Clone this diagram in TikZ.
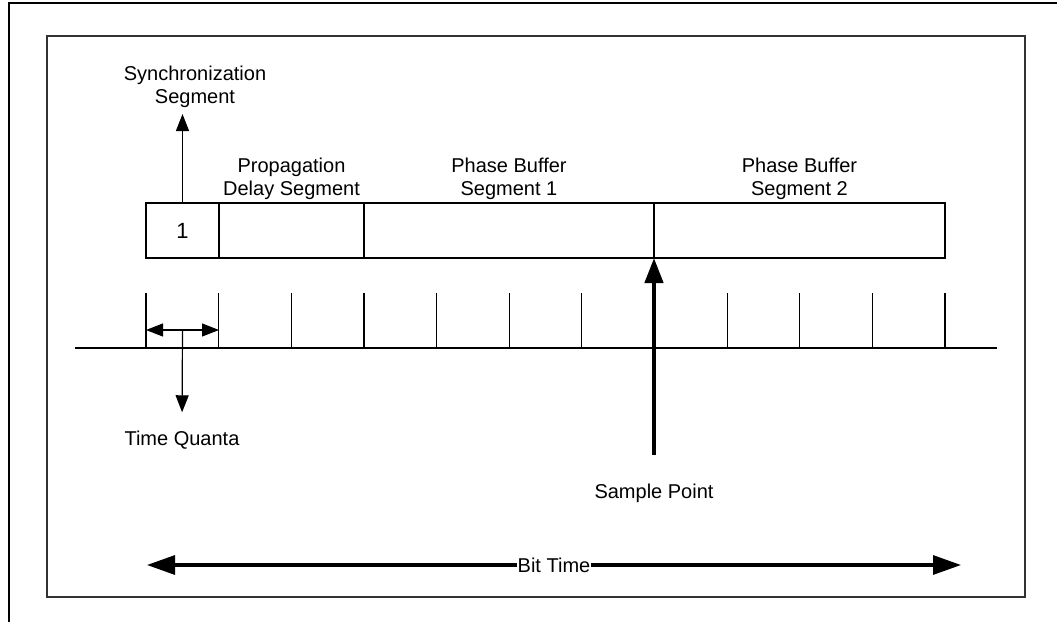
\documentclass[tikz,border=0pt]{standalone}
\usepackage{fontspec}
\setmainfont{Liberation Sans}
\usetikzlibrary{arrows.meta,positioning}
\definecolor{ink}{RGB}{0,0,0}
\definecolor{frame}{RGB}{50,50,50}
\tikzset{
  every picture/.style={color=ink, line width=0.6pt, x=0.5pt, y=-0.5pt},
  lbl/.style={font=\fontsize{10}{11.5}\selectfont, align=center, inner sep=1pt},
  seg/.style={draw, outer sep=0pt, inner sep=0pt, minimum height=27.5pt, font=\fontsize{11}{13}\selectfont},
  tick/.style={line width=0.6pt},
  small/.style={-{Triangle[length=8.5pt,width=6.5pt]}, line width=0.6pt},
  both/.style={{Triangle[length=8.5pt,width=6.5pt]}-{Triangle[length=8.5pt,width=6.5pt]}, line width=0.6pt},
  heavy/.style={-{Triangle[length=12.5pt,width=9pt]}, line width=2.2pt},
  span/.style={{Triangle[length=14pt,width=9.5pt]}-{Triangle[length=14pt,width=9.5pt]}, line width=1.6pt},
}

\begin{document}
\begin{tikzpicture}
  \useasboundingbox (0,0) rectangle (1057,622);
  % frame
  \draw[line width=1.3pt] (1057,3) -- (9,3) -- (9,622);
  \draw[frame] (47,36) rectangle (1025,597);

  % segments of one bit
  \node[seg, anchor=north west, minimum width=36.5pt] (sync) at (146,203) {1};
  \node[seg, minimum width=72.5pt, right=0pt of sync] (prop) {};
  \node[seg, minimum width=145pt, right=0pt of prop] (pb1) {};
  \node[seg, minimum width=145.5pt, right=0pt of pb1] (pb2) {};

  \node[lbl, above=0.5pt of prop] (propl) {Propagation\\Delay Segment};
  \node[lbl, above=0.5pt of pb1] (pb1l) {Phase Buffer\\Segment 1};
  \node[lbl, above=0.5pt of pb2] (pb2l) {Phase Buffer\\Segment 2};
  \node[lbl] (syncl) at (195,87) {Synchronization\\Segment};
  \coordinate (synctip) at (182.5,114);
  \draw[small] (sync.north) -- (synctip);

  % time axis with quanta
  \coordinate (a0) at (75,348);
  \coordinate (a1) at (997,348);
  \draw (a0) -- (a1);
  \foreach \i in {0,...,11}
    \draw[tick] ({146+72.64*\i},293) -- ({146+72.64*\i},348);
  \coordinate (q0) at (146,330);
  \coordinate (q1) at (219,330);
  \coordinate (qm) at (182.5,330);
  \draw[both] (q0) -- (q1);
  \node[lbl] (tq) at (182,440) {Time Quanta};
  \draw[small, shorten >=8pt] (qm) -- (tq.north);

  % sample point
  \node[lbl] (sp) at (654,493) {Sample Point};
  \draw[heavy, shorten <=13pt] (sp.north) -- (pb2.south west);

  % bit time
  \coordinate (bl) at (147,565);
  \coordinate (br) at (961,565);
  \draw[span] (bl) -- node[lbl, fill=white, inner sep=0.5pt] (bt) {Bit Time} (br);
\end{tikzpicture}
\end{document}
